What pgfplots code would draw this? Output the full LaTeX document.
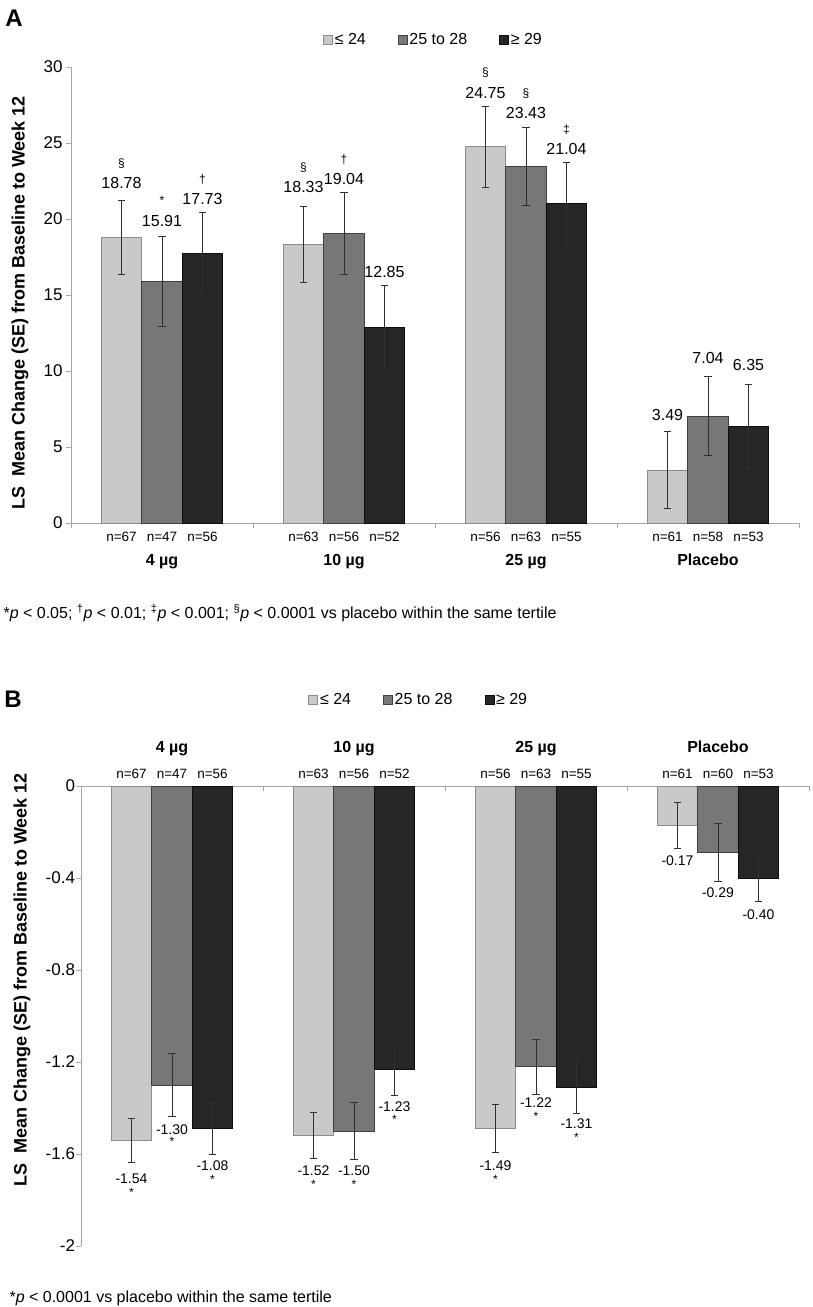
\documentclass[border=0pt]{standalone}
\usepackage{pgfplots}
\pgfplotsset{compat=1.18}
\usepackage{fontspec}
\setmainfont{Liberation Sans}
\definecolor{cLight}{HTML}{C9C9C9}
\definecolor{cLightB}{HTML}{8C8C8C}
\definecolor{cMid}{HTML}{777777}
\definecolor{cMidB}{HTML}{404040}
\definecolor{cDark}{HTML}{262626}
\definecolor{cDarkB}{HTML}{0D0D0D}
\definecolor{errc}{HTML}{303030}
\definecolor{axisgray}{HTML}{A6A6A6}
\newcommand{\fs}[1]{\fontsize{#1}{#1}\selectfont}
\newcommand{\lab}[5]{\node[font=\fs{#1}, text height=0.72em, text depth=0.22em, xshift=#2] at (axis cs:#3,#4) {#5};}
\newcommand{\labB}[5]{\node[font=\fs{#1}\bfseries, text height=0.72em, text depth=0.22em, xshift=#2] at (axis cs:#3,#4) {#5};}
\pgfplotsset{
  boxlegend/.style={legend image code/.code={\draw[##1,line width=0.6pt] (0pt,-4.5pt) rectangle (9pt,4.5pt);}},
  common/.style={
    scale only axis, width=728pt, xmin=-0.5, xmax=3.5,
    xtick={-0.5,0.5,1.5,2.5,3.5}, xticklabels={},
    axis y line*=left,
    axis line style={draw=axisgray, line width=0.8pt},
    tick style={draw=axisgray, line width=0.8pt},
    major tick length=5pt,
    ybar=0pt, bar width=40.5pt,
    clip=false, enlargelimits=false,
    yticklabel style={font=\fs{17}},
    error bars/y dir=both, error bars/y explicit,
    error bars/error bar style={line width=1pt, draw=errc},
    error bars/error mark options={rotate=90, mark size=3.7pt, line width=1pt, draw=errc},
    legend style={draw=none, fill=none, font=\fs{16}, legend columns=3,
      /tikz/every even column/.append style={column sep=30pt},
      nodes={inner sep=2pt}},
  }
}
\begin{document}
\begin{tikzpicture}
\useasboundingbox (0pt,0pt) rectangle (812pt,-1307pt);
% ---------------- Panel A ----------------
\node[font=\fs{24}\bfseries] at (14pt,-18pt) {A};
\node[font=\fs{18}\bfseries, rotate=90] at (20pt,-303pt) {LS\ \ Mean Change (SE) from Baseline to Week 12};
\begin{axis}[common, at={(71pt,-523pt)}, anchor=south west, height=456pt,
  ymin=0, ymax=30, ytick={0,5,10,15,20,25,30}, yticklabels={0,5,10,15,20,25,30},
  axis x line*=bottom, tick align=outside,
  legend style={at={(rel axis cs:0.498,1.059)}, anchor=center}]
\addplot[fill=cLight, draw=cLightB, line width=0.8pt, boxlegend] coordinates {(0,18.78) +- (0,2.45) (1,18.33) +- (0,2.5) (2,24.75) +- (0,2.65) (3,3.49) +- (0,2.55)};
\addplot[fill=cMid, draw=cMidB, line width=0.8pt, boxlegend] coordinates {(0,15.91) +- (0,2.95) (1,19.04) +- (0,2.7) (2,23.43) +- (0,2.57) (3,7.04) +- (0,2.63)};
\addplot[fill=cDark, draw=cDarkB, line width=0.8pt, boxlegend] coordinates {(0,17.73) +- (0,2.7) (1,12.85) +- (0,2.75) (2,21.04) +- (0,2.7) (3,6.35) +- (0,2.75)};
\legend{≤ 24, 25 to 28, ≥ 29}
% value labels
\lab{16}{-40.5pt}{0}{22.19}{18.78} \lab{12}{-40.5pt}{0}{23.55}{§}
\lab{16}{0pt}{0}{19.67}{15.91} \lab{12}{0pt}{0}{21.14}{*}
\lab{16}{40.5pt}{0}{21.14}{17.73} \lab{12}{40.5pt}{0}{22.52}{†}
\lab{16}{-40.5pt}{1}{21.91}{18.33} \lab{12}{-40.5pt}{1}{23.27}{§}
\lab{16}{0pt}{1}{22.41}{19.04} \lab{12}{0pt}{1}{23.84}{†}
\lab{16}{40.5pt}{1}{16.32}{12.85}
\lab{16}{-40.5pt}{2}{28.09}{24.75} \lab{12}{-40.5pt}{2}{29.54}{§}
\lab{16}{0pt}{2}{26.80}{23.43} \lab{12}{0pt}{2}{28.16}{§}
\lab{16}{40.5pt}{2}{24.43}{21.04} \lab{12}{40.5pt}{2}{25.81}{‡}
\lab{16}{-40.5pt}{3}{6.93}{3.49}
\lab{16}{0pt}{3}{10.66}{7.04}
\lab{16}{40.5pt}{3}{10.18}{6.35}
% n labels
\lab{13.5}{-40.5pt}{0}{-1.05}{n=67} \lab{13.5}{0pt}{0}{-1.05}{n=47} \lab{13.5}{40.5pt}{0}{-1.05}{n=56}
\lab{13.5}{-40.5pt}{1}{-1.05}{n=63} \lab{13.5}{0pt}{1}{-1.05}{n=56} \lab{13.5}{40.5pt}{1}{-1.05}{n=52}
\lab{13.5}{-40.5pt}{2}{-1.05}{n=56} \lab{13.5}{0pt}{2}{-1.05}{n=63} \lab{13.5}{40.5pt}{2}{-1.05}{n=55}
\lab{13.5}{-40.5pt}{3}{-1.05}{n=61} \lab{13.5}{0pt}{3}{-1.05}{n=58} \lab{13.5}{40.5pt}{3}{-1.05}{n=53}
% group labels
\labB{16}{0pt}{0}{-2.63}{4 µg}
\labB{16}{0pt}{1}{-2.63}{10 µg}
\labB{16}{0pt}{2}{-2.63}{25 µg}
\labB{16}{0pt}{3}{-2.63}{Placebo}
\end{axis}
\node[font=\fs{16}, anchor=west] at (0pt,-613pt) {*\textit{p} < 0.05; \textsuperscript{†}\textit{p} < 0.01; \textsuperscript{‡}\textit{p} < 0.001; \textsuperscript{§}\textit{p} < 0.0001 vs placebo within the same tertile};
% ---------------- Panel B ----------------
\node[font=\fs{24}\bfseries] at (13pt,-699pt) {B};
\node[font=\fs{18}\bfseries, rotate=90] at (22pt,-980pt) {LS\ \ Mean Change (SE) from Baseline to Week 12};
\begin{axis}[common, at={(81pt,-1246pt)}, anchor=south west, height=460pt,
  ymin=-2, ymax=0, ytick={-2,-1.6,-1.2,-0.8,-0.4,0}, yticklabels={-2,-1.6,-1.2,-0.8,-0.4,0},
  axis x line*=top, tick align=center,
  x tick style={yshift=-2.5pt}, y tick style={xshift=-2.5pt},
  legend style={at={(rel axis cs:0.464,1.187)}, anchor=center}]
\addplot[fill=cLight, draw=cLightB, line width=0.8pt, boxlegend] coordinates {(0,-1.54) +- (0,0.095) (1,-1.52) +- (0,0.10) (2,-1.49) +- (0,0.105) (3,-0.17) +- (0,0.10)};
\addplot[fill=cMid, draw=cMidB, line width=0.8pt, boxlegend] coordinates {(0,-1.30) +- (0,0.135) (1,-1.50) +- (0,0.125) (2,-1.22) +- (0,0.12) (3,-0.29) +- (0,0.125)};
\addplot[fill=cDark, draw=cDarkB, line width=0.8pt, boxlegend] coordinates {(0,-1.49) +- (0,0.11) (1,-1.23) +- (0,0.115) (2,-1.31) +- (0,0.115) (3,-0.40) +- (0,0.10)};
\legend{≤ 24, 25 to 28, ≥ 29}
\lab{14}{-40.5pt}{0}{-1.717}{-1.54} \lab{12}{-40.5pt}{0}{-1.774}{*}
\lab{14}{0pt}{0}{-1.504}{-1.30} \lab{12}{0pt}{0}{-1.552}{*}
\lab{14}{40.5pt}{0}{-1.661}{-1.08} \lab{12}{40.5pt}{0}{-1.717}{*}
\lab{14}{-40.5pt}{1}{-1.683}{-1.52} \lab{12}{-40.5pt}{1}{-1.739}{*}
\lab{14}{0pt}{1}{-1.683}{-1.50} \lab{12}{0pt}{1}{-1.739}{*}
\lab{14}{40.5pt}{1}{-1.404}{-1.23} \lab{12}{40.5pt}{1}{-1.457}{*}
\lab{14}{-40.5pt}{2}{-1.661}{-1.49} \lab{12}{-40.5pt}{2}{-1.717}{*}
\lab{14}{0pt}{2}{-1.387}{-1.22} \lab{12}{0pt}{2}{-1.443}{*}
\lab{14}{40.5pt}{2}{-1.478}{-1.31} \lab{12}{40.5pt}{2}{-1.535}{*}
\lab{14}{-40.5pt}{3}{-0.335}{-0.17}
\lab{14}{0pt}{3}{-0.474}{-0.29}
\lab{14}{40.5pt}{3}{-0.57}{-0.40}
\lab{13.5}{-40.5pt}{0}{0.043}{n=67} \lab{13.5}{0pt}{0}{0.043}{n=47} \lab{13.5}{40.5pt}{0}{0.043}{n=56}
\lab{13.5}{-40.5pt}{1}{0.043}{n=63} \lab{13.5}{0pt}{1}{0.043}{n=56} \lab{13.5}{40.5pt}{1}{0.043}{n=52}
\lab{13.5}{-40.5pt}{2}{0.043}{n=56} \lab{13.5}{0pt}{2}{0.043}{n=63} \lab{13.5}{40.5pt}{2}{0.043}{n=55}
\lab{13.5}{-40.5pt}{3}{0.043}{n=61} \lab{13.5}{0pt}{3}{0.043}{n=60} \lab{13.5}{40.5pt}{3}{0.043}{n=53}
\labB{16}{0pt}{0}{0.155}{4 µg}
\labB{16}{0pt}{1}{0.155}{10 µg}
\labB{16}{0pt}{2}{0.155}{25 µg}
\labB{16}{0pt}{3}{0.155}{Placebo}
\end{axis}
\node[font=\fs{16}, anchor=west] at (6pt,-1298pt) {*\textit{p} < 0.0001 vs placebo within the same tertile};
\end{tikzpicture}
\end{document}
